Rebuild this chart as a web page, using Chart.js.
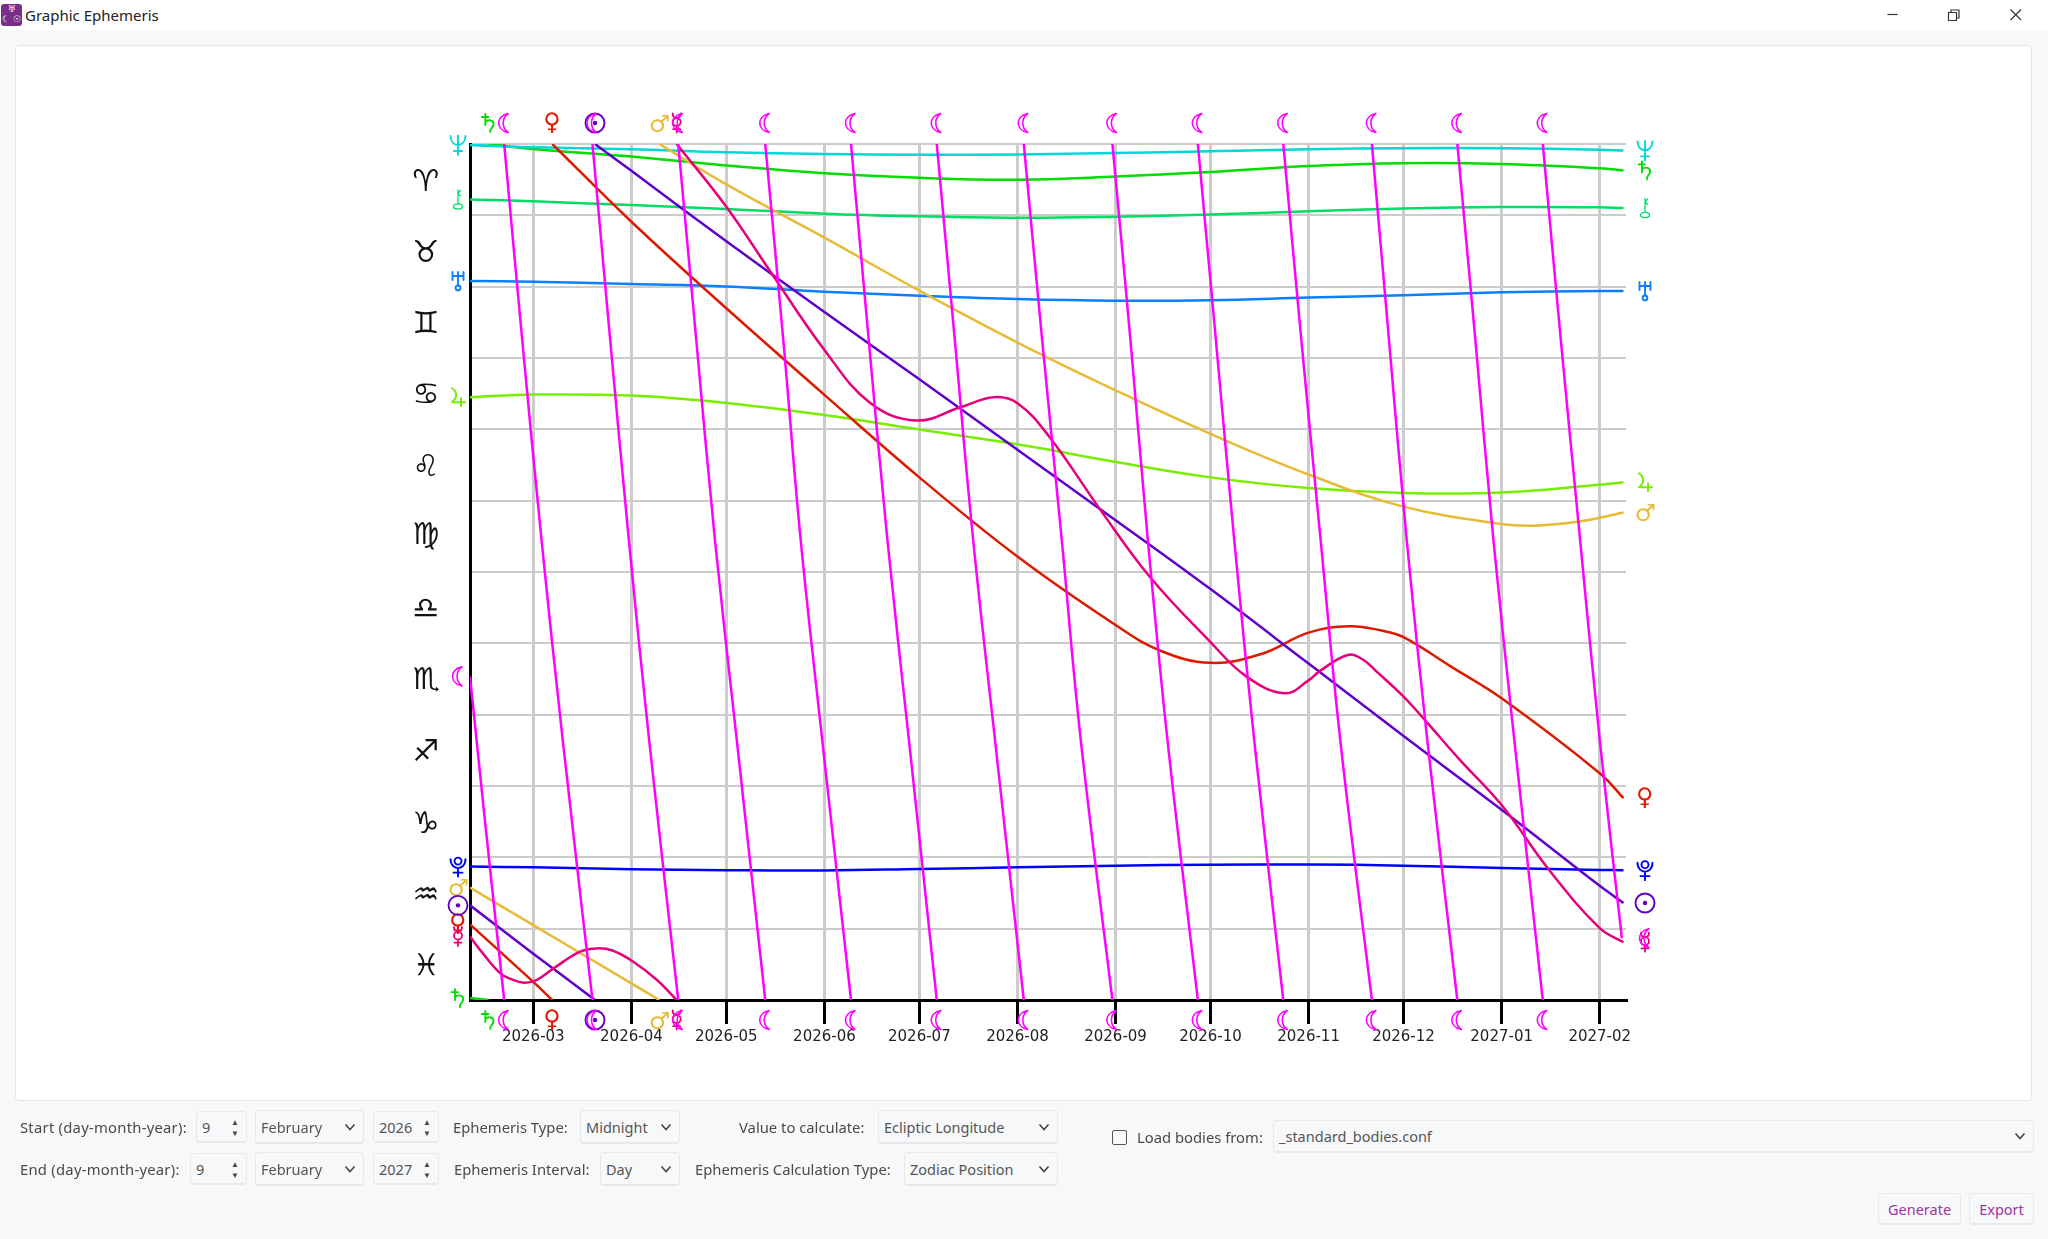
<!DOCTYPE html>
<html><head><meta charset="utf-8">
<script src="https://cdn.jsdelivr.net/npm/chart.js@4"></script>
<style>
html,body{margin:0;padding:0;width:2048px;height:1239px;overflow:hidden;background:#f7f8fa;font-family:"Noto Sans",sans-serif;color:#444}
.abs{position:absolute;white-space:nowrap}
#bar{position:absolute;left:0;top:0;width:2048px;height:30px;background:#fff}
#card{position:absolute;left:15px;top:45px;width:2017px;height:1056px;background:#fff;border:1px solid #e4e6ea;border-radius:4px;box-sizing:border-box}
canvas{position:absolute;left:0;top:0}
.lab{font-size:14.8px;line-height:20px;color:#4a4a4a;transform:translateY(-50%)}
.box{background:#f7f8fa;border:1px solid #e6e8ec;border-bottom-width:2px;border-radius:4px;box-sizing:border-box;font-size:14.5px;color:#555;display:flex;align-items:center;padding-left:5px}
.box svg{position:absolute;right:7px;top:50%;margin-top:-5px}
.spin{position:absolute;right:7px;top:50%;margin-top:-11px;font-size:8px;line-height:11px;color:#444;text-align:center}
.btn{background:#f7f8fa;border:1px solid #e6e8ec;border-bottom-width:2px;border-radius:4px;box-sizing:border-box;color:#a0359f;font-size:14.5px;display:flex;align-items:center;justify-content:center}
</style></head>
<body>
<div id="bar"></div>
<div class="abs" style="left:1px;top:4px;width:21px;height:22px;background:#7b2d8b;border-radius:3px;color:#fff;font:9px 'DejaVu Sans';line-height:10px;text-align:center;overflow:hidden"><span style="display:block">♅</span><span>☾ ☉</span></div>
<div class="abs" id="title" style="left:25px;top:5px;font-size:15px;line-height:20px;color:#222">Graphic Ephemeris</div>
<svg class="abs" style="left:1880px;top:5px" width="150" height="20" fill="none" stroke="#333" stroke-width="1.2">
<path d="M7.5 9.5H17.5"/><path d="M68.5 7.5h8v8h-8zM71 7.5V5h8v8h-2.5"/><path d="M130.5 4.5l10.5 10.5M141 4.5L130.5 15"/></svg>
<div id="card"></div>
<canvas id="c" width="2048" height="1239"></canvas>
<div id="ui"></div>
<script>
// ---------- tick labels and categories ----------
const monthDays=[20,51,81,112,142,173,204,234,265,295,326,357];
const monthLabels=["2026-03","2026-04","2026-05","2026-06","2026-07","2026-08","2026-09","2026-10","2026-11","2026-12","2027-01","2027-02"];
const zodiacGlyphs=["♈","♉","♊","♋","♌","♍","♎","♏","♐","♑","♒","♓"];
const zodiacDegrees=[15,45,75,105,135,165,195,225,255,285,315,345];
const slowDays=[0,20,51,81,112,142,173,204,234,265,295,326,357,364.5];
// ---------- series: ecliptic longitude in degrees ----------
const neptuneDeg=[0.4,1.4,2.2,3.5,4.2,4.5,4.4,3.8,3.1,2.2,1.8,1.8,2.4,2.7];
const chironDeg=[23.3,24.1,25.7,27.3,29.3,30.4,31,30.6,29.7,28.3,27.1,26.5,26.6,26.9];
const uranusDeg=[57.6,57.9,58.9,59.9,62.1,63.8,65.2,65.9,65.7,64.6,63.6,62.4,61.8,61.8];
const jupiterDeg=[106.5,105.4,105.8,108.9,114,120.1,126.3,133.7,140.2,144.7,146.8,146.6,143.3,142.3];
const plutoDeg=[303.9,304.2,305,305.4,305.5,304.9,304.2,303.5,303.1,303,303.5,304.5,305.3,305.4];
const saturnDays1=[0,5.8];
const saturnDeg1=[359.2,360];
const saturnDays2=[5.8,20,51,81,112,142,173,204,234,265,295,326,357,364.5];
const saturnDeg2=[0,2.1,5.3,9,12.3,14.2,15,13.7,11.8,9.3,8.1,8.4,10.2,11.1];
const marsDays1=[0,20,51,59.8];
const marsDeg1=[312.7,328.5,353,360];
const marsDays2=[59.8,81,112,142,173,204,234,265,295,326,336,347,357,364.5];
const marsDeg2=[0,17,39.4,61.7,83.5,103.6,121.9,139,152.5,159.8,160.5,159.4,157.2,155];
const sunDays1=[0,20,39.5];
const sunDeg1=[320.2,340.5,360];
const sunDays2=[39.5,51,81,112,142,173,204,234,265,295,326,357,364.5];
const sunDeg2=[0,11.3,40.9,70.7,98.9,128.6,158.2,187.2,218.5,249,280,312,319.2];
const venusDays1=[0,20,26];
const venusDeg1=[328.2,352.4,360];
const venusDays2=[26,51,81,112,142,173,204,218,234,250,265,278,288,295,310,326,357,364.5];
const venusDeg2=[0,32.7,69.1,105.5,140.2,173.5,202.3,213,218.2,214.5,205.5,202.8,204.6,207.4,219.8,233.1,264.6,275.1];
const mercuryDays1=[0,4,9.5,13,17,21,26.5,34.8,40,45,51.6,59,65.3];
const mercuryDeg1=[333.3,340.3,348.7,351.2,352.7,351.6,346.6,339.7,338.3,339.2,343.9,351.5,360];
const mercuryDays2=[65.3,81,94.8,112,126.4,141,155,165.5,173,183,199.6,214.8,234,245.4,257.5,265,268.6,277.4,282,286.5,295,301.7,312.8,326,341,357,364.5];
const mercuryDeg2=[0,26.4,53.4,86.6,108.8,116.3,110.7,106.5,109,123,154.6,182,209.5,224,231,225.6,221.6,214.9,216.7,221.9,232.4,242.2,259,278,305.3,329.8,335.7];
const moonFirstDays=[0,4.7,10.8];
const moonFirstDeg=[223.9,284.3,360];
const moonCycleDeg=[0,82.4,166.5,250.6,360];
const moonCycleDays=[
 [10.8,16.5,22.6,29.3,38.7],[38.7,44.3,50.2,56.6,65.8],[65.8,71.5,77.4,84.3,93.3],[93.3,99,104.5,111.3,120.4],
 [120.4,126,131.9,138.7,147.5],[147.5,153.2,159,165.9,175],[175,180.8,187,193,203],[203,208.7,214.2,220.4,230],
 [230,235.7,241.5,247.8,257],[257,262.7,268.8,275,285],[285,290.4,296,302.5,312],[312,317.7,323.4,330,339]];
const moonLastDays=[339,344.7,350.8,357,364];
const moonLastDeg=[0,82.4,166.5,250.6,334];

const MOON="#ff00ff",SUN="#5f00cc",MERC="#e6007a",VEN="#dc1a00",MARS="#e6bb35",JUP="#77ee00",SAT="#00dd00",URA="#0a80ff",NEP="#00d8d8",PLU="#0000ff",CHI="#00dd66";
const bodies=[
 {g:"♄",c:SAT,segs:[[saturnDays1,saturnDeg1],[saturnDays2,saturnDeg2]]},
 {g:"♆",c:NEP,segs:[[slowDays,neptuneDeg]]},
 {g:"⚷",c:CHI,segs:[[slowDays,chironDeg]]},
 {g:"♅",c:URA,segs:[[slowDays,uranusDeg]]},
 {g:"♃",c:JUP,segs:[[slowDays,jupiterDeg]]},
 {g:"♇",c:PLU,segs:[[slowDays,plutoDeg]]},
 {g:"♂",c:MARS,segs:[[marsDays1,marsDeg1],[marsDays2,marsDeg2]]},
 {g:"♀",c:VEN,segs:[[venusDays1,venusDeg1],[venusDays2,venusDeg2]]},
 {g:"☉",c:SUN,segs:[[sunDays1,sunDeg1],[sunDays2,sunDeg2]]},
 {g:"☿",c:MERC,segs:[[mercuryDays1,mercuryDeg1],[mercuryDays2,mercuryDeg2]]},
 {g:"☾",c:MOON,segs:[[moonFirstDays,moonFirstDeg],...moonCycleDays.map(d=>[d,moonCycleDeg]),[moonLastDays,moonLastDeg]]}
];
const datasets=[];
bodies.forEach((b,i)=>b.segs.forEach(s=>datasets.push({
  label:b.g,data:s[0].map((d,k)=>({x:d,y:s[1][k]})),borderColor:b.c,borderWidth:2.5,pointRadius:0,
  tension:0.4,fill:false,order:bodies.length-i})));

function textGlyph(ctx,txt,x,y,size,col){
  ctx.font=size+'px "DejaVu Sans"';ctx.fillStyle=col;ctx.textAlign="left";ctx.textBaseline="alphabetic";
  const t=txt+"\uFE0E",m=ctx.measureText(t);
  ctx.fillText(t,x-(m.actualBoundingBoxRight-m.actualBoundingBoxLeft)/2,y+(m.actualBoundingBoxAscent-m.actualBoundingBoxDescent)/2);
}
// symbol outlines, in glyph-local units, for symbols whose installed font forms differ from the chart's
const symbolPaths={
 "♄":[["M -3 -9 L -3 2 M -6.5 -6 L 0 -6 M -3 -1 C 0 -4 6 -3 5 2 C 4.5 5 1 6 2 9",1.9]],
 "♅":[["M -5.5 -9 L -5.5 -1 M 5.5 -9 L 5.5 -1 M -5.5 -5 L 5.5 -5 M 0 -9 L 0 4.5",1.9],["M 2.4 7 A 2.4 2.4 0 1 1 -2.4 7 A 2.4 2.4 0 1 1 2.4 7",1.9]],
 "♆":[["M -7.5 -9 C -7 -2 -3 0 0 0 C 3 0 7 -2 7.5 -9 M 0 -9.5 L 0 10 M -4 6 L 4 6",1.9]],
 "⚷":[["M 0 -9.5 L 0 4.3 M 0 -6 L 2.6 -9 M 0 -6 L 2.6 -3.5",1.3],["M 4.5 7 A 4.5 2.6 0 1 1 -4.5 7 A 4.5 2.6 0 1 1 4.5 7",1.3]],
 "♃":[["M -6 -9 C -1 -6 0 0 -6 5 L 7 5 M 3 1 L 3 9",2]],
 "♇":[["M 3.5 -5.5 A 3.5 3.5 0 1 1 -3.5 -5.5 A 3.5 3.5 0 1 1 3.5 -5.5 M -7.5 -7.5 C -7.5 -1 -3 1.5 0 1.5 C 3 1.5 7.5 -1 7.5 -7.5 M 0 1.5 L 0 10 M -4.5 6 L 4.5 6",1.9]],
 "☉":[["M 9.5 0 A 9.5 9.5 0 1 1 -9.5 0 A 9.5 9.5 0 1 1 9.5 0",1.9]],
 "☿":[["M -4 -9.5 C -4 -6 -2 -5 0 -5 C 2 -5 4 -6 4 -9.5 M 4 -1 A 4 4 0 1 1 -4 -1 A 4 4 0 1 1 4 -1 M 0 3 L 0 9.5 M -3.5 6.2 L 3.5 6.2",1.8]],
 "☾":[["M 4 -9.5 C -3 -8 -5.5 -3.5 -5.5 0 C -5.5 3.5 -3 8 4 9.5 C 0 6.5 -1 3 -1 0 C -1 -3 0 -6.5 4 -9.5 Z",1.6]]
};
function glyph(ctx,g,x,y,col){
  const p=symbolPaths[g];
  if(!p){textGlyph(ctx,g,x,y,24,col);return;}
  ctx.save();ctx.translate(x,y);ctx.strokeStyle=col;ctx.fillStyle=col;ctx.lineCap="round";ctx.lineJoin="round";
  p.forEach(([d,w])=>{ctx.lineWidth=w;ctx.stroke(new Path2D(d));});
  if(g==="☉"){ctx.beginPath();ctx.arc(0,0,2.2,0,7);ctx.fill();}
  ctx.restore();
}
const glyphPlugin={id:"glyphs",afterDraw(chart){
  const ctx=chart.ctx,X=chart.scales.x,Y=chart.scales.y,a=chart.chartArea;
  ctx.save();
  zodiacGlyphs.forEach((g,i)=>textGlyph(ctx,g,a.left-44,Y.getPixelForValue(zodiacDegrees[i]),30,"#111"));
  bodies.forEach(b=>{
    const first=b.segs[0],last=b.segs[b.segs.length-1];
    glyph(ctx,b.g,a.left-12,Y.getPixelForValue(first[1][0]),b.c);
    glyph(ctx,b.g,a.right+19,Y.getPixelForValue(last[1][last[1].length-1]),b.c);
    b.segs.slice(1).forEach(s=>{
      const px=X.getPixelForValue(s[0][0]);
      glyph(ctx,b.g,px,a.top-21,b.c);
      glyph(ctx,b.g,px,a.bottom+20,b.c);
    });
  });
  ctx.restore();
}};

new Chart(document.getElementById("c"),{
  type:"line",data:{datasets},plugins:[glyphPlugin],
  options:{responsive:false,animation:false,devicePixelRatio:1,
    layout:{padding:{left:470,top:144,right:422,bottom:189}},
    plugins:{legend:{display:false},tooltip:{enabled:false}},
    scales:{
      x:{type:"linear",min:0,max:365.3,
        afterBuildTicks(s){s.ticks=monthDays.map(v=>({value:v}));},
        afterFit(s){s.height=50;s.paddingLeft=0;s.paddingRight=0;},
        ticks:{autoSkip:false,maxRotation:0,padding:4,color:"#222",font:{family:"DejaVu Sans",size:15},
          callback(v){return monthLabels[monthDays.indexOf(v)];}},
        grid:{color:"#cccccc",lineWidth:3,tickColor:"#000",tickLength:24,tickWidth:3},
        border:{display:true,color:"#000",width:3}},
      y:{type:"linear",min:0,max:360,reverse:true,
        afterFit(s){s.width=0;},
        ticks:{display:false,stepSize:30},
        grid:{color:"#cccccc",lineWidth:2,drawTicks:false},
        border:{display:true,color:"#000",width:3}}
    }}
});

// ---------- window controls ----------
const chev='<svg width="12" height="10" viewBox="0 0 12 10" fill="none" stroke="#444" stroke-width="1.6"><path d="M1.5 2.5L6 7.5L10.5 2.5"/></svg>';
const ui=document.getElementById("ui");
function lab(t,x,y,ls){ui.insertAdjacentHTML("beforeend",`<div class="abs lab" style="left:${x}px;top:${y}px;letter-spacing:${ls||0}px">${t}</div>`);}
function combo(t,x0,x1,y0,y1){ui.insertAdjacentHTML("beforeend",`<div class="abs box" style="left:${x0}px;top:${y0}px;width:${x1-x0}px;height:${y1-y0}px">${t}${chev}</div>`);}
function spin(t,x0,x1,y0,y1){ui.insertAdjacentHTML("beforeend",`<div class="abs box" style="left:${x0}px;top:${y0}px;width:${x1-x0}px;height:${y1-y0}px">${t}<div class="spin">▲<br>▼</div></div>`);}
function btn(t,x0,x1,y0,y1){ui.insertAdjacentHTML("beforeend",`<div class="abs btn" style="left:${x0}px;top:${y0}px;width:${x1-x0}px;height:${y1-y0}px">${t}</div>`);}
lab("Start (day-month-year):",20,1127,0.25);
spin("9",196,247,1111,1143);combo("February",255,364,1110,1144);spin("2026",373,439,1111,1143);
lab("Ephemeris Type:",453,1127);combo("Midnight",580,680,1110,1144);
lab("Value to calculate:",739,1127);combo("Ecliptic Longitude",878,1058,1110,1144);
lab("End (day-month-year):",20,1169,0.25);
spin("9",190,247,1153,1185);combo("February",255,364,1152,1186);spin("2027",373,439,1153,1185);
lab("Ephemeris Interval:",454,1169);combo("Day",600,680,1152,1186);
lab("Ephemeris Calculation Type:",695,1169);combo("Zodiac Position",904,1058,1152,1186);
ui.insertAdjacentHTML("beforeend",'<div class="abs" style="left:1112px;top:1130px;width:13px;height:13px;border:1.5px solid #555;border-radius:2px;box-sizing:content-box"></div>');
lab("Load bodies from:",1137,1137);combo("_standard_bodies.conf",1273,2034,1120,1153);
btn("Generate",1878,1961,1193,1225);btn("Export",1969,2034,1193,1225);
</script>
</body></html>
